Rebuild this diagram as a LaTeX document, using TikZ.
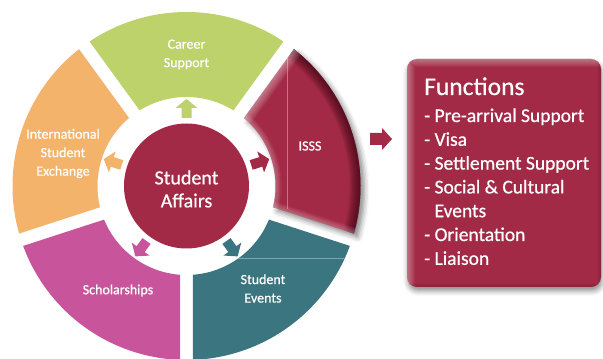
\documentclass[tikz,border=0pt]{standalone}
\usepackage{fontspec}
\setmainfont{Carlito}
\newfontfamily\medfont{Carlito}[FakeBold=0.6]
\usetikzlibrary{shadows.blur}
\definecolor{cgreen}{HTML}{BDD26B}
\definecolor{corange}{HTML}{F3B36B}
\definecolor{cpink}{HTML}{C8559B}
\definecolor{cteal}{HTML}{3A7580}
\definecolor{cmaroon}{HTML}{A32A46}
\definecolor{cdark}{HTML}{3A0512}
\newcommand\segpath[1]{([shift={(C)}]#1+2.141:174pt) arc[start angle=#1+2.141, end angle=#1+72-2.141, radius=174pt] -- ([shift={(C)}]#1+72-4.188:89pt) arc[start angle=#1+72-4.188, end angle=#1+4.188, radius=89pt] -- cycle}
\tikzset{
  seglabel/.style={text=white, align=center, font=\medfont\fontsize{14}{18.5}\selectfont, inner sep=0pt},
  flist/.style={text=white, anchor=base west, font=\medfont\fontsize{19.5}{23}\selectfont, inner sep=0pt},
  smallarrow/.style={fill=#1},
}
\begin{document}
\begin{tikzpicture}[x=1pt,y=1pt]
\useasboundingbox (0,0) rectangle (603,359);
\coordinate (C) at (186.5,173);
% ring segments
\fill[cteal] \segpath{-90};
\fill[cgreen] \segpath{54};
\fill[corange] \segpath{126};
\fill[cpink] \segpath{198};
\begin{scope}
  \clip \segpath{-90};
  \draw[white, opacity=0.35, line width=0.7pt] (237,101) -- (350,101);
\end{scope}
% raised ISSS segment
\fill[cmaroon, blur shadow={shadow xshift=4pt, shadow yshift=-4pt, shadow blur radius=5pt, shadow opacity=45}] \segpath{-18};
\begin{scope}
  \clip \segpath{-18};
  \foreach \w in {2,4,...,22}
    \draw[cdark, line width=\w pt, opacity=0.09] ([shift={(C)}]-30:174pt) arc[start angle=-30, end angle=62, radius=174pt];
  \begin{scope}[shift={(C)}, rotate=54]
    \foreach \w in {2,4,...,18}
      \draw[white, line width=\w pt, opacity=0.05] (60,-6.5) -- (190,-6.5);
  \end{scope}
  \begin{scope}[shift={(C)}, rotate=-18]
    \foreach \w in {2,4,...,12}
      \draw[white, line width=\w pt, opacity=0.05] (60,6.5) -- (190,6.5);
  \end{scope}
  \foreach \w in {2,4,...,12}
    \draw[white, line width=\w pt, opacity=0.05] ([shift={(C)}]-30:89pt) arc[start angle=-30, end angle=62, radius=89pt];
  \draw[white, opacity=0.35, line width=0.7pt] (287,302) -- (287,150);
\end{scope}
% arrows in the white ring
\foreach \a/\c in {90/cgreen, 18/cmaroon, -54/cteal, -126/cpink, 162/corange}
  \fill[smallarrow=\c, shift={(C)}, rotate=\a] (68,-5) -- (78,-5) -- (78,-11) -- (87,0) -- (78,11) -- (78,5) -- (68,5) -- cycle;
% centre
\node[circle, fill=cmaroon, minimum size=125pt, inner sep=0pt] (sa) at (C) {};
\node[seglabel, font=\medfont\fontsize{20}{23}\selectfont] (salabel) at (186.5,170) {Student\\Affairs};
% labels
\node[seglabel] (career) at (186.5,304.5) {Career\\Support};
\node[seglabel] (ise) at (63,205.5) {International\\Student\\Exchange};
\node[seglabel] (isss) at (310,213) {ISSS};
\node[seglabel] (schol) at (118,68.5) {Scholarships};
\node[seglabel] (events) at (263,70.5) {Student\\Events};
% big arrow
\fill[cmaroon] (370,226) -- (382,226) -- (382,231) -- (392,220) -- (382,209) -- (382,214) -- (370,214) -- cycle;
% functions box
\node[fill=cmaroon, rounded corners=10pt, minimum width=194pt, minimum height=228pt, inner sep=0pt,
      blur shadow={shadow xshift=1pt, shadow yshift=-4pt, shadow blur radius=5pt, shadow opacity=45}] (fbox) at (504,186) {};
\begin{scope}
  \clip[rounded corners=10pt] (407,72) rectangle (601,300);
  \foreach \w in {2,4,...,16}
    \draw[white, line width=\w pt, opacity=0.05] (407,72) -- (407,300) -- (601,300);
  \foreach \w in {2,4,...,8}
    \draw[cdark, line width=\w pt, opacity=0.05] (601,300) -- (601,72) -- (407,72);
\end{scope}
\node[text=white, anchor=base west, font=\medfont\fontsize{25.5}{28}\selectfont, inner sep=0pt] (f0) at (424,264) {Functions};
\node[flist] (f1) at (424,237) {- Pre-arrival Support};
\node[flist] (f2) at (424,213.2) {- Visa};
\node[flist] (f3) at (424,189.4) {- Settlement Support};
\node[flist] (f4) at (424,165.6) {- Social \& Cultural};
\node[flist] (f5) at (424,141.8) {\hphantom{- }Events};
\node[flist] (f6) at (424,118) {- Orientation};
\node[flist] (f7) at (424,94.2) {- Liaison};
\end{tikzpicture}
\end{document}
